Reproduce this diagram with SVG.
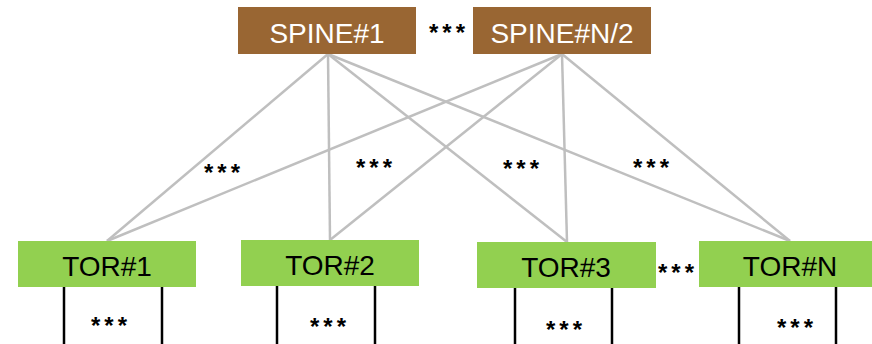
<svg xmlns="http://www.w3.org/2000/svg" width="872" height="344" viewBox="0 0 872 344">
<style>
.spine{fill:#996633}
.tor{fill:#92d050}
.lbl{font-family:"Liberation Sans",Arial,sans-serif;font-size:28px;text-anchor:middle}
.w{fill:#ffffff}
.k{fill:#000000}
.dots{font-family:"Liberation Sans",Arial,sans-serif;font-size:24px;font-weight:bold;text-anchor:middle;letter-spacing:4px;fill:#000}
.link{stroke:#bfbfbf;stroke-width:2.5;fill:none}
.port{stroke:#000;stroke-width:2.5}
</style>
<rect width="872" height="344" fill="#fff"/>
<g id="connectors">
<line class="link" x1="328" y1="54" x2="107" y2="241"/>
<line class="link" x1="328" y1="54" x2="330" y2="240"/>
<line class="link" x1="328" y1="54" x2="567" y2="242"/>
<line class="link" x1="328" y1="54" x2="790" y2="241"/>
<line class="link" x1="562" y1="54" x2="107" y2="241"/>
<line class="link" x1="562" y1="54" x2="330" y2="240"/>
<line class="link" x1="562" y1="54" x2="567" y2="242"/>
<line class="link" x1="562" y1="54" x2="790" y2="241"/>
</g>
<g id="spine1"><rect class="spine" x="238" y="7" width="178" height="47"/><text class="lbl w" x="327" y="43">SPINE#1</text></g>
<g id="spineN2"><rect class="spine" x="473" y="7" width="178" height="47"/><text class="lbl w" x="562" y="43">SPINE#N/2</text></g>
<g id="tor1"><rect class="tor" x="18" y="241" width="178" height="46"/><text class="lbl k" x="107" y="276">TOR#1</text>
<line class="port" x1="64" y1="287" x2="64" y2="344"/><line class="port" x1="162" y1="287" x2="162" y2="344"/></g>
<g id="tor2"><rect class="tor" x="241" y="240" width="178" height="46"/><text class="lbl k" x="330" y="275">TOR#2</text>
<line class="port" x1="277" y1="286" x2="277" y2="344"/><line class="port" x1="375" y1="286" x2="375" y2="344"/></g>
<g id="tor3"><rect class="tor" x="477" y="242" width="179" height="46"/><text class="lbl k" x="566" y="277">TOR#3</text>
<line class="port" x1="515" y1="288" x2="515" y2="344"/><line class="port" x1="612" y1="288" x2="612" y2="344"/></g>
<g id="torN"><rect class="tor" x="699" y="241" width="173" height="46"/><text class="lbl k" x="790" y="276">TOR#N</text>
<line class="port" x1="739" y1="287" x2="739" y2="344"/><line class="port" x1="836" y1="287" x2="836" y2="344"/></g>
<g id="labels">
<text class="dots" x="449" y="41">***</text>
<text class="dots" x="224" y="181">***</text>
<text class="dots" x="376" y="176">***</text>
<text class="dots" x="523" y="177">***</text>
<text class="dots" x="653" y="176">***</text>
<text class="dots" x="678" y="281">***</text>
<text class="dots" x="111" y="334">***</text>
<text class="dots" x="330" y="335">***</text>
<text class="dots" x="566" y="338">***</text>
<text class="dots" x="797" y="336">***</text>
</g>
</svg>
